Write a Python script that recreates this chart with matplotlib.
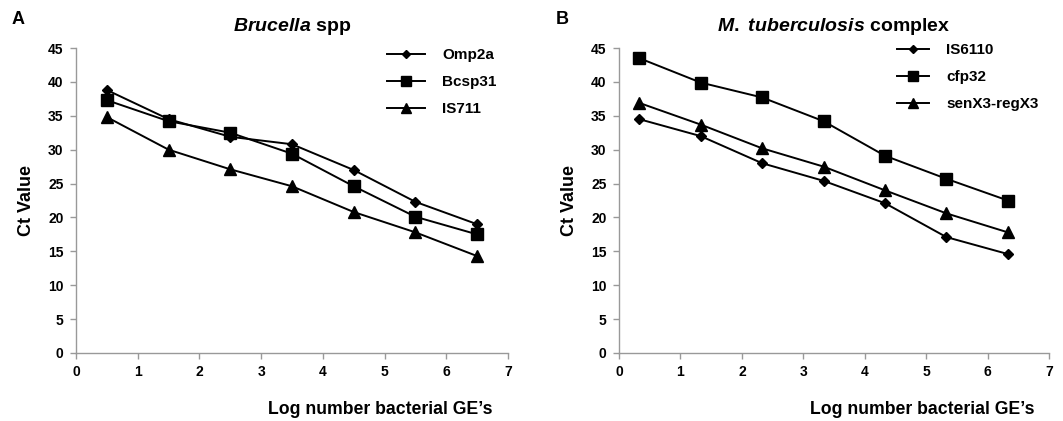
import matplotlib
matplotlib.use("Agg")
import matplotlib.pyplot as plt

plt.rcParams['font.family'] = ['Liberation Sans', 'DejaVu Sans']
plt.rcParams['mathtext.fontset'] = 'custom'
plt.rcParams['mathtext.it'] = 'Liberation Sans:italic:bold'
plt.rcParams['mathtext.rm'] = 'Liberation Sans:bold'
plt.rcParams['mathtext.bf'] = 'Liberation Sans:bold'

x_a = [0.5, 1.5, 2.5, 3.5, 4.5, 5.5, 6.5]
omp2a = [38.8, 34.5, 31.9, 30.8, 27.0, 22.3, 19.0]
bcsp31 = [37.3, 34.2, 32.5, 29.4, 24.6, 20.1, 17.5]
is711 = [34.8, 30.0, 27.1, 24.6, 20.8, 17.8, 14.3]

x_b = [0.33, 1.33, 2.33, 3.33, 4.33, 5.33, 6.33]
is6110 = [34.5, 32.0, 28.0, 25.4, 22.1, 17.1, 14.6]
cfp32 = [43.5, 39.9, 37.7, 34.2, 29.1, 25.7, 22.5]
senx3 = [36.9, 33.7, 30.2, 27.5, 24.0, 20.6, 17.8]

xticks = [0, 1, 2, 3, 4, 5, 6, 7]
yticks = [0, 5, 10, 15, 20, 25, 30, 35, 40, 45]

W, H = 1063, 421
fig = plt.figure(figsize=(W / 100, H / 100), dpi=100)

def px_axes(x0, x1, y0, y1):
    return fig.add_axes([x0 / W, 1 - y1 / H, (x1 - x0) / W, (y1 - y0) / H])

ax_a = px_axes(76, 508, 48, 353)
ax_b = px_axes(619, 1049, 48, 353)

def style(ax):
    ax.set_xlim(0, 7)
    ax.set_ylim(0, 45)
    ax.set_xticks(xticks)
    ax.set_yticks(yticks)
    for s in ['top', 'right']:
        ax.spines[s].set_visible(False)
    for s in ['left', 'bottom']:
        ax.spines[s].set_color('#999999')
        ax.spines[s].set_linewidth(1.0)
    ax.tick_params(direction='out', length=4, color='#999999', width=1.0,
                   labelsize=10, pad=5)
    for lab in ax.get_xticklabels() + ax.get_yticklabels():
        lab.set_fontweight('bold')
    ax.set_ylabel('Ct Value', fontsize=13, fontweight='bold', labelpad=9)

lw = 1.4
series_a = [(omp2a, 'D', 5, 'Omp2a'), (bcsp31, 's', 8, 'Bcsp31'), (is711, '^', 8, 'IS711')]
for ys, m, ms, lab in series_a:
    ax_a.plot(x_a, ys, color='black', lw=lw, marker=m, markersize=ms, label=lab)

series_b = [(is6110, 'D', 5, 'IS6110'), (cfp32, 's', 8, 'cfp32'), (senx3, '^', 8, 'senX3-regX3')]
for ys, m, ms, lab in series_b:
    ax_b.plot(x_b, ys, color='black', lw=lw, marker=m, markersize=ms, label=lab)

style(ax_a)
style(ax_b)
ax_a.legend(loc='upper left', bbox_to_anchor=((392 - 76 - 11) / 432, 1.02), frameon=False,
            prop={'weight': 'bold', 'size': 11}, handlelength=2.5, markerscale=0.85,
            labelspacing=0.85, handletextpad=1.1, borderaxespad=0)
ax_b.legend(loc='upper left', bbox_to_anchor=((903 - 619 - 12) / 430, 1.035), frameon=False,
            prop={'weight': 'bold', 'size': 11}, handlelength=2.1, markerscale=0.85,
            labelspacing=0.85, handletextpad=1.1, borderaxespad=0)

ax_a.set_title(r'$\mathit{Brucella}$ spp', fontsize=14, fontweight='bold', pad=12)
ax_b.set_title(r'$\mathit{M.\ tuberculosis}$ complex', fontsize=14, fontweight='bold', pad=12)

fig.text(12 / W, 1 - 20 / H, 'A', fontsize=13, fontweight='bold', va='center', ha='left')
fig.text(556 / W, 1 - 20 / H, 'B', fontsize=13, fontweight='bold', va='center', ha='left')

fig.text(492 / W, 1 - 410 / H, "Log number bacterial GE\u2019s", fontsize=12.7,
         fontweight='bold', ha='right', va='center')
fig.text(1035 / W, 1 - 410 / H, "Log number bacterial GE\u2019s", fontsize=12.7,
         fontweight='bold', ha='right', va='center')

fig.savefig('out.png', dpi=100)
